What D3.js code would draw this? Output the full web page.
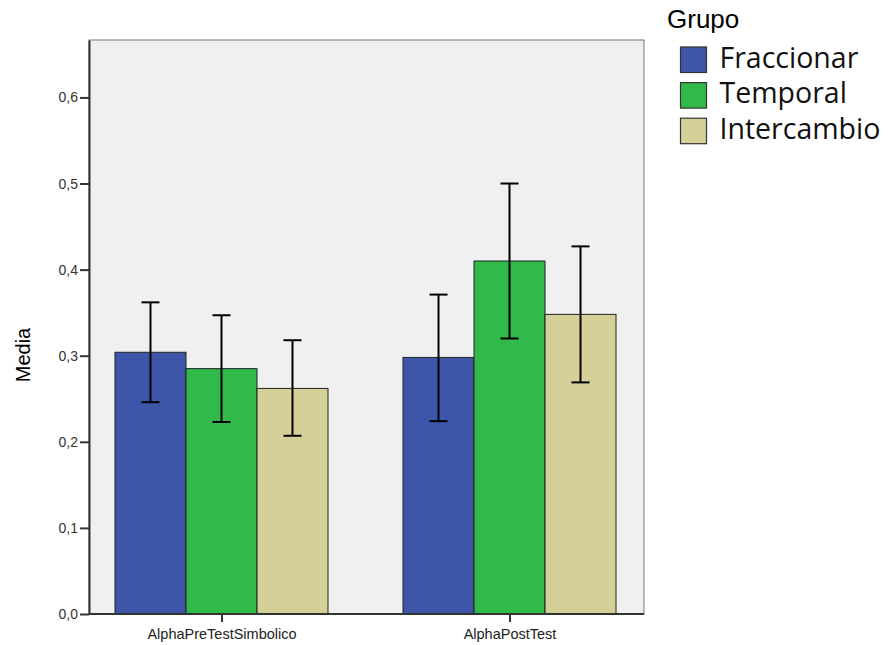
<!DOCTYPE html>
<html>
<head>
<meta charset="utf-8">
<script src="https://cdn.jsdelivr.net/npm/d3@7"></script>
<style>
  body { margin: 0; background: #fff; }
  text { font-family: "Liberation Sans", Arial, sans-serif; }
</style>
</head>
<body>
<div id="chart"></div>
<script>
// data
var tests = ["AlphaPreTestSimbolico", "AlphaPostTest"];
var groups = ["Fraccionar", "Temporal", "Intercambio"];
var means = [[0.304, 0.285, 0.262], [0.298, 0.410, 0.348]];
var lower = [[0.246, 0.223, 0.207], [0.224, 0.320, 0.269]];
var upper = [[0.362, 0.347, 0.318], [0.371, 0.500, 0.427]];
var yTicks = [0, 0.1, 0.2, 0.3, 0.4, 0.5, 0.6];
var colors = ["#3d56aa", "#31b94a", "#d4d098"];

var W = 890, H = 645;
var margin = {top: 40, right: 246, bottom: 31, left: 89},
    width = W - margin.left - margin.right,
    height = H - margin.top - margin.bottom;

var svg = d3.select("#chart")
  .append("svg")
    .attr("width", W)
    .attr("height", H);

var g = svg.append("g")
    .attr("transform", "translate(" + margin.left + "," + margin.top + ")");

// plot background
g.append("rect")
  .attr("width", width)
  .attr("height", height)
  .attr("fill", "#f0f0f0")
  .attr("stroke", "#777")
  .attr("stroke-width", 1);

var x = d3.scalePoint()
  .domain(tests)
  .range([0, width - 2])
  .padding(0.46);

var xSub = d3.scaleBand()
  .domain(groups)
  .range([-106.5, 106.5]);

var y = d3.scaleLinear()
  .domain([0, 0.6667])
  .range([height, 0]);

// bars
var rows = [];
tests.forEach(function(t, i) {
  groups.forEach(function(gr, j) {
    rows.push({test: t, group: gr, mean: means[i][j], lo: lower[i][j], hi: upper[i][j], c: colors[j]});
  });
});

g.selectAll(".bar")
  .data(rows)
  .enter().append("rect")
    .attr("class", "bar")
    .attr("x", function(d) { return x(d.test) + xSub(d.group); })
    .attr("y", function(d) { return y(d.mean); })
    .attr("width", xSub.bandwidth())
    .attr("height", function(d) { return y(0) - y(d.mean); })
    .attr("fill", function(d) { return d.c; })
    .attr("stroke", "#222")
    .attr("stroke-width", 1);

// error bars
var cap = 9;
var mid = function(d) { return x(d.test) + xSub(d.group) + xSub.bandwidth() / 2; };
var eb = g.selectAll(".err")
  .data(rows)
  .enter().append("g")
    .attr("class", "err")
    .attr("stroke", "#000")
    .attr("stroke-width", 2);
eb.append("line")
  .attr("x1", mid)
  .attr("x2", mid)
  .attr("y1", function(d) { return y(d.lo); })
  .attr("y2", function(d) { return y(d.hi); });
eb.append("line")
  .attr("x1", function(d) { return mid(d) - cap; })
  .attr("x2", function(d) { return mid(d) + cap; })
  .attr("y1", function(d) { return y(d.hi); })
  .attr("y2", function(d) { return y(d.hi); });
eb.append("line")
  .attr("x1", function(d) { return mid(d) - cap; })
  .attr("x2", function(d) { return mid(d) + cap; })
  .attr("y1", function(d) { return y(d.lo); })
  .attr("y2", function(d) { return y(d.lo); });

// axes
var yAxis = g.append("g")
  .call(d3.axisLeft(y).tickValues(yTicks).tickSize(9).tickSizeOuter(0).tickPadding(2)
    .tickFormat(function(d) { return d3.format(".1f")(d).replace(".", ","); }));
yAxis.select(".domain").attr("stroke", "#333").attr("stroke-width", 2);
yAxis.selectAll(".tick line").attr("stroke", "#333").attr("stroke-width", 2);
yAxis.selectAll("text").attr("font-size", "14px").attr("fill", "#333");

var xAxis = g.append("g")
  .attr("transform", "translate(0," + height + ")")
  .call(d3.axisBottom(x).tickSize(8).tickSizeOuter(0).tickPadding(7));
xAxis.select(".domain").attr("stroke", "#333").attr("stroke-width", 2)
  .attr("d", "M0,0H" + width);
xAxis.selectAll(".tick line").attr("stroke", "#333").attr("stroke-width", 2);
xAxis.selectAll("text").attr("font-size", "14.5px").attr("fill", "#222");

// y title
svg.append("text")
  .attr("transform", "translate(30,355) rotate(-90)")
  .attr("text-anchor", "middle")
  .attr("font-size", "20px")
  .attr("fill", "#000")
  .text("Media");

// legend
svg.append("text")
  .attr("x", 667)
  .attr("y", 28)
  .attr("font-size", "26px")
  .attr("fill", "#000")
  .text("Grupo");

var leg = svg.selectAll(".legend")
  .data(groups)
  .enter().append("g")
    .attr("class", "legend")
    .attr("transform", function(d, i) { return "translate(680.5," + (47 + i * 35.6) + ")"; });
leg.append("rect")
  .attr("width", 26)
  .attr("height", 25.5)
  .attr("fill", function(d, i) { return colors[i]; })
  .attr("stroke", "#333")
  .attr("stroke-width", 1.2);
leg.append("text")
  .attr("x", 39)
  .attr("y", 20.5)
  .attr("font-size", "28.5px")
  .attr("fill", "#111")
  .style("font-family", "'Open Sans', sans-serif")
  .text(function(d) { return d; });
</script>
</body>
</html>
